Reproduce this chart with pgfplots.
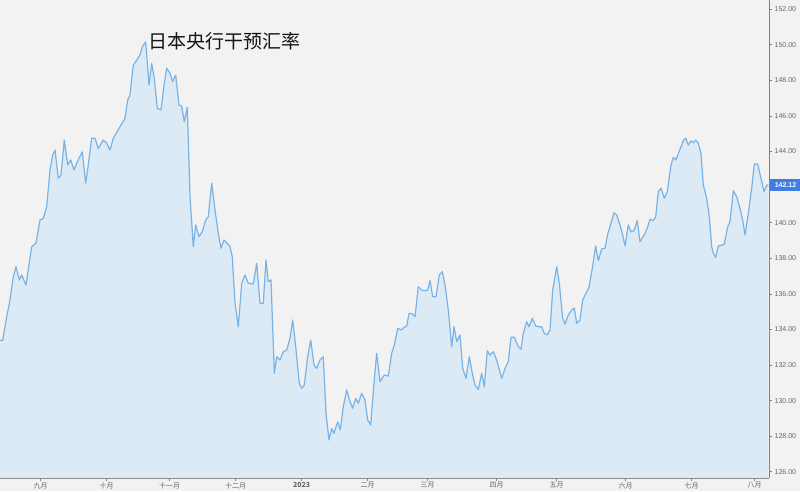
\documentclass[border=0pt]{standalone}
\usepackage{fontspec}
\setmainfont{Liberation Sans}
\newfontfamily\cjk{Noto Sans CJK SC}
\usepackage{pgfplots}
\usepackage{pgfplotstable}
\pgfplotsset{compat=1.18}
\definecolor{bg}{HTML}{F2F2F2}
\definecolor{fillc}{HTML}{DCEAF5}
\definecolor{linec}{HTML}{78B3E6}
\definecolor{tickc}{HTML}{666666}
\definecolor{axc}{HTML}{808080}
\definecolor{lblc}{HTML}{3F7DE0}

\pgfplotstableread{
x y
0 133.40
2.7 133.37
6.7 134.71
10 135.65
13.3 136.96
16 137.52
19.3 136.78
21.7 137.06
26 136.49
31.7 138.65
36 138.84
40 140.15
43.3 140.24
46.7 140.89
50 142.96
52.7 143.80
55 144.08
58.3 142.49
61 142.67
64.3 144.64
67.7 143.24
70.7 143.52
74 142.96
77.3 143.42
82.3 143.98
85.7 142.21
88.3 143.24
91.7 144.74
95 144.74
98.3 144.17
103.3 144.64
106.7 144.46
110 144.08
113.3 144.74
120 145.39
125 145.86
127.7 146.89
130 147.17
132.3 148.39
133.3 148.85
136.7 149.13
140 149.42
142.3 149.88
145.7 150.16
149 147.73
151.7 148.95
154.3 148.11
157.3 146.42
161 146.33
164.3 147.83
166.7 148.67
170 148.39
172.7 147.92
175.7 148.29
179 146.61
181.7 146.55
184.3 145.67
187.3 146.48
190 141.46
193.3 138.65
195.7 139.87
199 139.21
202.3 139.49
205.7 140.15
208.3 140.33
211.7 142.21
215 140.71
218.3 139.40
221 138.56
224 139.02
227.3 138.84
230 138.65
232.3 138.08
235 135.47
238.3 134.15
241.7 136.59
245 137.06
248.3 136.59
253.3 136.55
256.7 137.71
260 135.47
263.3 135.47
266 137.90
268.3 136.68
271 136.78
274.3 131.53
276.7 132.47
280 132.28
283.3 132.75
286.7 132.84
290 133.50
292.7 134.53
295.7 133.03
299.3 130.97
301.7 130.69
304.3 130.88
307.7 132.47
310.7 133.40
314 132.00
316.7 131.81
320 132.28
323.3 132.47
326 129.29
329 127.79
331.7 128.44
334 128.16
337.7 128.81
340.3 128.35
343.3 129.66
346.7 130.60
350 129.94
352.7 129.57
355.7 130.13
358.3 129.85
361.7 130.41
365 130.03
367.7 128.91
370.7 128.63
374 130.97
376.7 132.66
380 131.06
384.3 131.44
388.3 131.38
391.7 132.66
394.3 133.12
397.7 134.06
401 133.97
404.3 134.12
406.7 134.19
409 134.90
411.7 134.90
415 134.71
418.3 136.40
421.7 136.21
425 136.17
427.7 136.21
430 136.74
432.7 135.84
436 135.84
439.3 137.06
442.3 137.24
445 136.49
448.3 135.09
451.7 133.03
454 134.15
456.7 133.31
460 133.69
462.7 131.81
466 131.25
469.3 132.47
472.3 131.53
475 130.88
478.3 130.63
481.7 131.53
484.3 130.78
487.3 132.80
490 132.56
493.3 132.75
496.7 132.28
499.3 131.72
501.7 131.25
505 131.81
508.3 132.19
511 133.56
514.3 133.56
518.3 133.03
521 132.88
523.3 133.78
526.7 134.43
529 134.15
532.3 134.62
535.7 134.19
539 134.15
541.7 134.15
544.3 133.78
547.3 133.69
550 133.97
552.7 136.21
556.7 137.52
559.3 136.59
562.7 134.62
565 134.30
568.3 134.81
571.7 135.09
574.3 135.19
576.7 134.34
580 134.53
582.7 135.65
586 136.03
589 136.37
592.3 137.43
595.7 138.69
598.3 137.86
601.7 138.53
605 138.56
607.7 139.36
611 139.96
614 140.56
616.7 140.43
620 139.87
622.7 139.30
625 138.69
628.3 139.87
631 139.49
634 139.55
637.3 140.11
640 138.93
643.3 139.21
645 139.39
647.7 139.77
650 140.19
653.3 140.11
655.7 140.33
658.3 141.74
661 141.93
664.3 141.37
667.3 141.74
671 143.24
673.3 143.67
676 143.52
678.3 143.89
681 144.26
683.3 144.60
685.7 144.74
688.3 144.36
691 144.60
693.3 144.49
695.7 144.64
698.3 144.46
701 143.89
703.3 142.11
706.7 141.37
709.3 140.33
711.7 138.65
713.3 138.28
715.7 138.05
718.3 138.69
721 138.72
724.3 138.80
727.7 139.77
730 140.05
733.3 141.79
736.7 141.46
740 140.80
742.7 140.15
745 139.30
748.3 140.52
751.7 141.93
754.3 143.29
757.7 143.29
761 142.49
764 141.74
766.7 142.11
768.3 142.12
}\fxdata

\begin{document}
\begin{tikzpicture}
\fill[bg] (0,-13pt) rectangle (800pt,478pt);
\begin{axis}[
  at={(0,0)}, anchor=south west,
  width=769pt, height=478pt, scale only axis,
  xmin=0, xmax=769, ymin=125.65, ymax=152.51,
  axis x line*=bottom, axis y line*=right,
  axis line style={axc, line width=0.8pt},
  xtick={40.7,106.7,169.7,235.7,301.7,367.7,427.7,496.7,556.7,625.7,691.7,754.7},
  xticklabels={九月,十月,十一月,十二月,{\bfseries 2023},二月,三月,四月,五月,六月,七月,八月},
  x tick label style={font=\cjk\fontsize{7}{8}\selectfont, text=tickc, inner sep=1.2pt},
  ytick={126,128,130,132,134,136,138,140,144,146,148,150,152},
  yticklabel style={font=\fontsize{7}{8}\selectfont, text=tickc, inner sep=2.5pt,
    /pgf/number format/fixed, /pgf/number format/fixed zerofill, /pgf/number format/precision=2},
  /pgf/number format/assume math mode=true,
  tick align=outside, major tick length=3pt,
  tick style={axc, line width=0.6pt},
]
\addplot[fill=fillc, draw=none] table[x=x, y=y] {\fxdata} \closedcycle;
\addplot[linec, line width=1.2pt, line join=round] table[x=x, y=y] {\fxdata};
\coordinate (lp) at (axis cs:769,142.12);
\end{axis}
\node[anchor=west, inner sep=0pt, font=\cjk\fontsize{19}{19}\selectfont, text=black!92] at (148pt,437pt) {日本央行干预汇率};
\node[fill=lblc, text=white, anchor=west, inner sep=1pt, minimum width=31pt, minimum height=12pt,
  font=\bfseries\fontsize{7}{8}\selectfont] at ([xshift=0.8pt]lp) {142.12};
\pgfresetboundingbox
\useasboundingbox (0,-13pt) rectangle (800pt,478pt);
\end{tikzpicture}
\end{document}
